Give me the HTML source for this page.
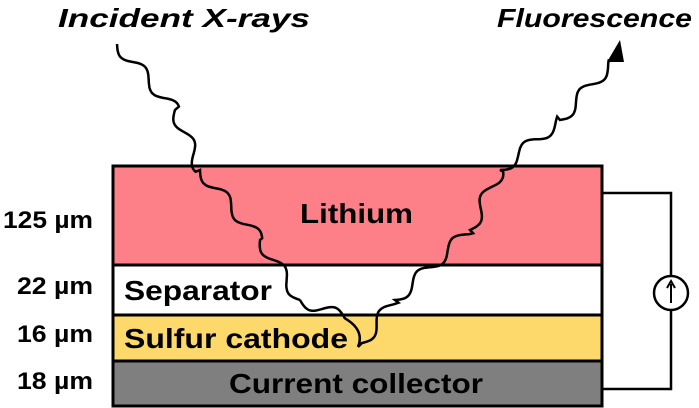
<!DOCTYPE html>
<html><head><meta charset="utf-8"><style>
html,body{margin:0;padding:0;background:#fff;}
svg{display:block;font-family:"Liberation Sans",sans-serif;font-weight:bold;}
</style></head><body>
<svg width="699" height="408" viewBox="0 0 699 408">
<text x="58" y="27" font-size="26" font-style="italic" textLength="252" lengthAdjust="spacingAndGlyphs">Incident X-rays</text>
<text x="497" y="27" font-size="26" font-style="italic" textLength="195" lengthAdjust="spacingAndGlyphs">Fluorescence</text>
<rect x="113" y="166" width="489" height="99" fill="#fd8089" stroke="#000" stroke-width="3"/>
<rect x="113" y="265" width="489" height="50" fill="#fff" stroke="#000" stroke-width="3"/>
<rect x="113" y="315" width="489" height="46" fill="#fdd86b" stroke="#000" stroke-width="3"/>
<rect x="113" y="361" width="489" height="45" fill="#7f7f7f" stroke="#000" stroke-width="3"/>
<text x="300" y="223" font-size="28" textLength="113" lengthAdjust="spacingAndGlyphs">Lithium</text>
<text x="124" y="300" font-size="28" textLength="148" lengthAdjust="spacingAndGlyphs">Separator</text>
<text x="124" y="348" font-size="28" textLength="224" lengthAdjust="spacingAndGlyphs">Sulfur cathode</text>
<text x="229" y="393" font-size="28" textLength="254" lengthAdjust="spacingAndGlyphs">Current collector</text>
<g font-size="24">
<text x="3" y="228" textLength="90" lengthAdjust="spacingAndGlyphs">125 µm</text>
<text x="17" y="294" textLength="76" lengthAdjust="spacingAndGlyphs">22 µm</text>
<text x="17" y="342" textLength="76" lengthAdjust="spacingAndGlyphs">16 µm</text>
<text x="17" y="389" textLength="76" lengthAdjust="spacingAndGlyphs">18 µm</text>
</g>
<path d="M602 193 H671 V276 M671 310 V389 H602" fill="none" stroke="#000" stroke-width="2.5"/>
<circle cx="671" cy="293" r="17" fill="#fff" stroke="#000" stroke-width="2.5"/>
<path d="M671 303 V284 M667 288 L671 281 L675 288" fill="none" stroke="#000" stroke-width="2"/>
<path id="inc" fill="none" stroke="#000" stroke-width="2.5"/>
<path id="flu" fill="none" stroke="#000" stroke-width="2.5"/>
<polygon points="620,40 607,62 624,62" fill="#000"/>
</svg>
<script>
function wave(pts,amp,wl){
  let d='';
  for(let s=0;s<pts.length-1;s++){
    const [x0,y0]=pts[s],[x1,y1]=pts[s+1];
    const L=Math.hypot(x1-x0,y1-y0),nx=-(y1-y0)/L,ny=(x1-x0)/L;
    const n=Math.ceil(L/2);
    for(let i=0;i<=n;i++){
      const t=i/n,o=amp*Math.sin(2*Math.PI*t*L/wl);
      const x=x0+(x1-x0)*t+nx*o,y=y0+(y1-y0)*t+ny*o;
      d+=(d?'L':'M')+x.toFixed(1)+' '+y.toFixed(1);
    }
  }
  return d;
}
document.getElementById('inc').setAttribute('d',wave([[117,44],[175,110],[200,170],[260,240],[300,300],[345,318]],6,48)+' Q365 330 358 347');
document.getElementById('flu').setAttribute('d','M358 347 '+wave([[362,343],[395,300],[470,230],[500,170],[560,120],[612,62]],6,48).replace(/^M/,'L'));
</script>
</body></html>
